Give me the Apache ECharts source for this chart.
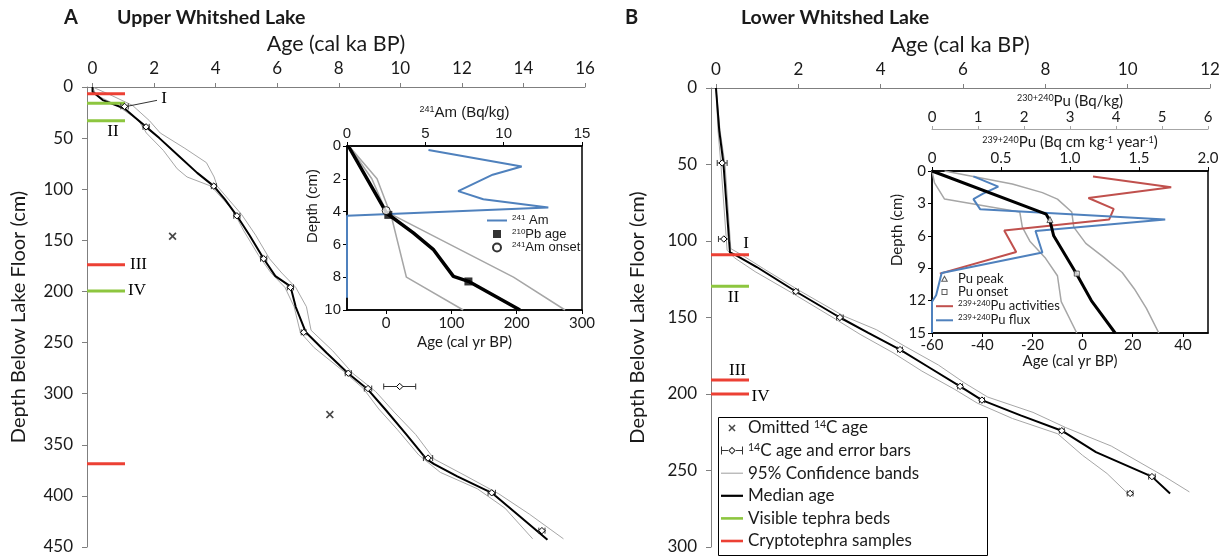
<!DOCTYPE html>
<html>
<head>
<meta charset="utf-8">
<script src="https://cdn.jsdelivr.net/npm/echarts@6/dist/echarts.min.js"></script>
<style>
  html, body { margin: 0; padding: 0; background: #fff; }
  #chart { width: 1224px; height: 556px; }
</style>
</head>
<body>
<div id="chart"></div>
<script>
// ---------- tick labels ----------
const ageTicksA = [0, 2, 4, 6, 8, 10, 12, 14, 16];
const depthTicksA = [0, 50, 100, 150, 200, 250, 300, 350, 400, 450];
const ageTicksB = [0, 2, 4, 6, 8, 10, 12];
const depthTicksB = [0, 50, 100, 150, 200, 250, 300];
const insetAgeTicksA = [0, 100, 200, 300];
const insetAgeTicksB = [-60, -40, -20, 0, 20, 40];

// ---------- A: Upper Whitshed Lake (age ka, depth cm) ----------
const medianAgeA = [0, 0.0, 0.33, 1.04, 1.39, 1.74, 2.17, 2.82, 3.4, 3.94, 4.3, 4.69, 5.1, 5.56, 5.94, 6.43, 6.6, 6.93, 7.6, 8.3, 8.95, 9.5, 10.2, 10.85, 11.1, 11.85, 12.97, 13.8, 14.78];
const medianDepthA = [0, 4.6, 12.8, 21, 30, 39, 50, 68, 84, 97, 110, 126, 145, 168, 185, 195, 215, 240, 260, 280, 296, 315, 340, 364, 369, 381, 397, 418, 443];
const youngAgeA = [0, 0.12, 0.8, 1.5, 1.75, 2.3, 2.75, 3.07, 3.85, 4.55, 4.9, 5.4, 5.8, 6.25, 6.55, 6.75, 7.2, 8.15, 8.8, 9.3, 9.9, 10.6, 11.3, 12.5, 13.4, 14.3];
const youngDepthA = [0, 8, 18, 33, 45, 62, 80, 88, 97, 120, 140, 165, 182, 196, 215, 240, 255, 278, 295, 315, 335, 360, 377, 393, 412, 442];
const oldAgeA = [0, 0.6, 1.3, 1.85, 2.2, 3.0, 3.7, 3.95, 4.05, 4.85, 5.3, 5.75, 6.15, 6.6, 6.95, 7.1, 7.8, 8.45, 9.2, 9.8, 10.5, 11.1, 12.1, 13.2, 14.2, 15.3];
const oldDepthA = [0, 8, 18, 33, 45, 60, 74, 88, 97, 125, 145, 168, 182, 196, 215, 238, 258, 280, 298, 318, 340, 364, 380, 398, 418, 442];
const c14AgeA = [1.04, 1.74, 3.94, 4.69, 5.56, 6.43, 6.86, 8.31, 8.95, 9.98, 10.9, 12.97, 14.6];
const c14DepthA = [19, 39, 97, 126, 168, 196, 240, 280, 295, 293, 363, 397, 434];
const c14ErrA = [0.12, 0.1, 0.08, 0.1, 0.1, 0.1, 0.08, 0.1, 0.12, 0.52, 0.15, 0.12, 0.1];
const omitAgeA = [2.6, 7.71];
const omitDepthA = [146, 320.5];
const tephraDepthA = [6.5, 16, 33, 174, 199.5, 368.5];
const tephraKindA = ['crypto', 'visible', 'visible', 'crypto', 'visible', 'crypto'];
const tephraLabelA = ['', 'I', 'II', 'III', 'IV', ''];

// A inset (age yr BP / 241Am Bq/kg, depth cm)
const amConc = [5.2, 11.15, 9.3, 7.1, 8.7, 12.85, 0, 0];
const amDepth = [0.25, 1.25, 1.75, 2.75, 3.25, 3.75, 4.25, 9.25];
const insetMedAgeA = [-58, 0.8, 41.6, 72, 103, 126, 205];
const insetMedDepthA = [0, 4.1, 5.3, 6.3, 7.95, 8.25, 10];
const insetYoungAgeA = [-57, -14, 8, 31, 118];
const insetYoungDepthA = [0, 2, 4.3, 8.0, 10];
const insetOldAgeA = [-57, -22, 0, 195, 274];
const insetOldDepthA = [0, 2, 4.0, 8.0, 10];
const pbAge = [3.3, 126];
const pbDepth = [4.2, 8.26];
const amOnsetAge = [0];
const amOnsetDepth = [3.94];

// ---------- B: Lower Whitshed Lake ----------
const medianAgeB = [0, 0.08, 0.18, 0.34, 0.5, 0.99, 1.94, 3.01, 3.7, 4.47, 5.2, 5.93, 6.46, 7.4, 8.4, 9.23, 10.59, 11.03];
const medianDepthB = [0, 28, 49, 107.5, 109.6, 117, 133, 150, 160, 171, 183, 195, 204, 214, 224, 238, 254, 265];
const youngAgeB = [0, 0.05, 0.12, 0.27, 0.45, 0.95, 1.85, 2.9, 3.5, 4.3, 5.0, 5.8, 6.35, 7.2, 8.3, 8.9, 9.5, 10.0];
const youngDepthB = [0, 28, 50, 106, 111, 120, 134, 151, 161, 173, 185, 197, 206, 216, 226, 240, 252, 265];
const oldAgeB = [0, 0.1, 0.22, 0.36, 0.62, 1.15, 2.0, 3.1, 3.9, 4.6, 5.4, 6.05, 6.6, 7.7, 8.5, 9.6, 10.9, 11.5];
const oldDepthB = [0, 28, 50, 105, 109, 118, 132, 149, 158, 169, 181, 193, 202, 212, 222, 234, 254, 264];
const c14AgeB = [0.15, 0.19, 1.94, 3.01, 4.47, 5.93, 6.46, 8.4, 10.59, 10.06];
const c14DepthB = [49, 98.7, 133, 150, 171, 195, 204, 224, 254, 265];
const c14ErrB = [0.12, 0.13, 0.06, 0.08, 0.06, 0.06, 0.06, 0.06, 0.08, 0.07];
const tephraDepthB = [109, 129.6, 190.9, 200];
const tephraKindB = ['crypto', 'visible', 'crypto', 'crypto'];
const tephraLabelB = ['I', 'II', 'III', 'IV'];

// B inset (age yr BP / Pu, depth cm)
const puFlux = [0.3, 0.48, 0.37, 0.3, 0.35, 1.69, 0.75, 0.8, 0.07, 0.03, 0, 0];
const puFluxDepth = [0.5, 1.45, 2.1, 2.6, 3.55, 4.5, 5.55, 7.55, 9.45, 11.5, 12.1, 15];
const puAct = [3.5, 5.2, 3.4, 3.95, 3.85, 1.57, 1.83, 0.17];
const puActDepth = [0.5, 1.5, 2.5, 3.5, 4.5, 5.5, 7.5, 9.5];
const insetMedAgeB = [-60, -14.5, -13, -11.5, -2.5, 3.5, 13];
const insetMedDepthB = [0, 4.0, 4.6, 6.0, 9.5, 12, 15];
const insetYoungAgeB = [-60, -59, -55, -25, -24, -21, -15, -10, -8.5, -2.3];
const insetYoungDepthB = [0, 1.1, 2.6, 3.8, 5.2, 6.5, 8.0, 9.7, 12.1, 15];
const insetOldAgeB = [-55, -28, -16, -10, -4.3, -3.5, 1.3, 8.5, 15.8, 20.6, 25.4, 30.4];
const insetOldDepthB = [0, 1.2, 2.0, 2.6, 3.8, 5.2, 6.7, 8.0, 9.4, 10.9, 12.7, 15];
const puPeakAge = [-13];
const puPeakDepth = [4.5];
const puOnsetAge = [-2.3];
const puOnsetDepth = [9.5];

// ---------- styles ----------
const FONT = 'Lato';
const ARIAL = 'Liberation Sans';
const AXIS_GREY = '#7f7f7f';
const BAND = '#a6a6a6';
const GREEN = '#8dc63f';
const RED = '#ec4034';
const BLUE = '#4f81bd';
const PU_RED = '#c0504d';
const TEPHRA_LEN = 38;

const zip = (xs, ys) => xs.map((x, i) => [x, ys[i]]);

// label placement relative to the right end of each tephra line
const tephraLabelPosA = { I: [39, -4.5, true], II: [-12, 11], III: [13.5, 0], IV: [12, 0] };
const tephraLabelPosB = { I: [-3, -11.5], II: [-15.5, 11], III: [-11.5, -9.5], IV: [11.5, 2.5] };

function tephraSeries(name, color, kind, depths, kinds, labels, pos, xi, yi) {
  const idx = depths.map((d, i) => i).filter(i => kinds[i] === kind);
  const labs = idx.map(i => labels[i]);
  return {
    type: 'custom', name, xAxisIndex: xi, yAxisIndex: yi, z: 4,
    itemStyle: { color },
    encode: { y: 0 },
    data: idx.map(i => [depths[i]]),
    renderItem(params, api) {
      const y = api.coord([0, api.value(0)])[1];
      const x0 = params.coordSys.x;
      const x1 = x0 + TEPHRA_LEN;
      const children = [{ type: 'line', shape: { x1: x0, y1: y, x2: x1, y2: y }, style: { stroke: color, lineWidth: 3 } }];
      const lab = labs[params.dataIndex];
      if (lab) {
        const p = pos[lab];
        children.push({ type: 'text', x: x1 + p[0], y: y + p[1],
          style: { text: lab, fill: '#000', font: '17px "Liberation Serif"', align: 'center', verticalAlign: 'middle' } });
        if (p[2]) {
          children.push({ type: 'line', shape: { x1: x1 + p[0] - 7, y1: y + p[1] + 1.5, x2: x1 + 2, y2: y + 3 },
            style: { stroke: '#000', lineWidth: 0.8 } });
        }
      }
      return { type: 'group', children };
    }
  };
}

function renderAge(params, api) {
  const p = api.coord([api.value(0), api.value(1)]);
  const lo = api.coord([api.value(0) - api.value(2), api.value(1)]);
  const hi = api.coord([api.value(0) + api.value(2), api.value(1)]);
  const d = 3.2, c = 3;
  const s = { stroke: '#333', lineWidth: 1 };
  return { type: 'group', children: [
    { type: 'line', shape: { x1: lo[0], y1: p[1], x2: hi[0], y2: p[1] }, style: s },
    { type: 'line', shape: { x1: lo[0], y1: p[1] - c, x2: lo[0], y2: p[1] + c }, style: s },
    { type: 'line', shape: { x1: hi[0], y1: p[1] - c, x2: hi[0], y2: p[1] + c }, style: s },
    { type: 'polygon', shape: { points: [[p[0], p[1] - d], [p[0] + d, p[1]], [p[0], p[1] + d], [p[0] - d, p[1]]] },
      style: { fill: '#fff', stroke: '#000', lineWidth: 1 } }
  ] };
}

function mainX(gridIndex, min, max, ticks) {
  return {
    gridIndex, type: 'value', position: 'top', min, max,
    splitLine: { show: false },
    axisLine: { show: true, onZero: false, lineStyle: { color: AXIS_GREY } },
    axisTick: { show: true, customValues: ticks, length: 4, lineStyle: { color: AXIS_GREY } },
    axisLabel: { customValues: ticks, margin: 10, fontFamily: FONT, fontSize: 17, color: '#1a1a1a' },
    name: 'Age (cal ka BP)', nameLocation: 'middle', nameGap: 32,
    nameTextStyle: { fontFamily: FONT, fontSize: 21.5, color: '#1a1a1a' }
  };
}
function mainY(gridIndex, max, ticks, gap) {
  return {
    gridIndex, type: 'value', inverse: true, min: 0, max,
    splitLine: { show: false },
    axisLine: { show: true, onZero: false, lineStyle: { color: AXIS_GREY } },
    axisTick: { show: true, customValues: ticks, length: 5, lineStyle: { color: AXIS_GREY } },
    axisLabel: { customValues: ticks, margin: 14, fontFamily: FONT, fontSize: 17, color: '#1a1a1a' },
    name: 'Depth Below Lake Floor (cm)', nameLocation: 'middle', nameGap: gap, nameRotate: 90,
    nameTextStyle: { fontFamily: FONT, fontSize: 20, color: '#1a1a1a' }
  };
}
const supRich = (size) => ({
  t: { fontSize: size, fontFamily: FONT, color: '#1a1a1a' },
  a: { fontSize: size, fontFamily: ARIAL, color: '#1a1a1a' },
  s: { fontSize: Math.round(size * 0.62), fontFamily: FONT, color: '#1a1a1a', verticalAlign: 'top' },
  sa: { fontSize: Math.round(size * 0.62), fontFamily: ARIAL, color: '#1a1a1a', verticalAlign: 'top' }
});
function insetX(gridIndex, opt) {
  return Object.assign({
    gridIndex, type: 'value', splitLine: { show: false },
    axisLine: { show: true, onZero: false, lineStyle: { color: '#000', width: 1.5 } },
    axisTick: { show: true, length: 4, lineStyle: { color: '#000' } },
    nameLocation: 'middle'
  }, opt);
}

const legendNames = {
  'Omitted 14C age': '{t|Omitted }{s|14}{t|C age}',
  '14C age and error bars': '{s|14}{t|C age and error bars}',
  '241Am': '{sa|241}{a| Am}',
  '210Pb age': '{sa|210}{a|Pb age}',
  '241Am onset': '{sa|241}{a|Am onset}',
  '239+240Pu activities': '{s|239+240}{t|Pu activities}',
  '239+240Pu flux': '{s|239+240}{t|Pu flux}'
};
const legendFmt = (name) => legendNames[name] || '{t|' + name + '}';

const X_PATH = 'path://M0,1.5L1.5,0L5,3.5L8.5,0L10,1.5L6.5,5L10,8.5L8.5,10L5,6.5L1.5,10L0,8.5L3.5,5Z';
const X_ICON = X_PATH + 'M-2,-2h0.01v0.01zM12,12h0.01v0.01z';
const ERR_ICON = 'path://M0,0H1V3.5H7V4.5H1V8H0Z M22,0V8H21V4.5H15V3.5H21V0Z M11,0.2L14.8,4L11,7.8L7.2,4Z M11,1.6L8.6,4L11,6.4L13.4,4Z';
const BAR_ICON = 'path://M0,0H22V2.6H0Z';
const THIN_ICON = 'path://M0,0H22V1.1H0Z';
const MED_ICON = 'path://M0,0H22V2.2H0Z';
const LINE_ICON = 'path://M0,0H20V2H0Z';
const SQUARE_ICON = 'path://M0,0H10V10H0Z';
const TRI_ICON = 'path://M5,1.8L8.6,8.2H1.4Z M5,3.9L3.1,7.2H6.9Z';
const SQ_ICON = 'path://M2,2H8V8H2Z M3,3V7H7V3Z';
const PAD = 'M0,0h0.01v0.01zM10,10h0.01v0.01z';

const option = {
  animation: false,
  backgroundColor: '#fff',
  title: [
    { text: 'A', left: 64, top: 8, padding: 0, textStyle: { fontFamily: FONT, fontWeight: 'bold', fontSize: 20, color: '#1a1a1a' } },
    { text: 'Upper Whitshed Lake', left: 117, top: 8, padding: 0, textStyle: { fontFamily: FONT, fontWeight: 'bold', fontSize: 19.5, color: '#1a1a1a' } },
    { text: 'B', left: 625, top: 8, padding: 0, textStyle: { fontFamily: FONT, fontWeight: 'bold', fontSize: 20, color: '#1a1a1a' } },
    { text: 'Lower Whitshed Lake', left: 741, top: 8, padding: 0, textStyle: { fontFamily: FONT, fontWeight: 'bold', fontSize: 19.5, color: '#1a1a1a' } }
  ],
  grid: [
    { left: 87, top: 87, width: 498, height: 460 },
    { left: 347, top: 146, width: 235, height: 164, show: true, borderColor: '#000', borderWidth: 1.5, backgroundColor: '#fff' },
    { left: 711, top: 88, width: 499, height: 459 },
    { left: 932, top: 171, width: 276, height: 162, show: true, borderColor: '#000', borderWidth: 1.5, backgroundColor: '#fff' }
  ],
  xAxis: [
    mainX(0, -0.18, 16, ageTicksA),
    insetX(1, { position: 'top', min: 0, max: 15, interval: 5,
      axisLabel: { margin: 5, fontFamily: ARIAL, fontSize: 15, color: '#1a1a1a' },
      name: '{sa|241}{a|Am (Bq/kg)}', nameGap: 26, nameTextStyle: { rich: supRich(15) } }),
    insetX(1, { position: 'bottom', min: -60, max: 300,
      axisTick: { show: true, customValues: insetAgeTicksA, length: 4, lineStyle: { color: '#000' } },
      axisLabel: { customValues: insetAgeTicksA, margin: 6, fontFamily: FONT, fontSize: 15, color: '#1a1a1a' },
      name: 'Age (cal yr BP)', nameGap: 25, nameTextStyle: { fontFamily: FONT, fontSize: 15, color: '#1a1a1a' } }),
    mainX(2, -0.121, 12, ageTicksB),
    insetX(3, { position: 'top', min: 0, max: 2, interval: 0.5,
      axisLabel: { margin: 5, fontFamily: FONT, fontSize: 15, color: '#1a1a1a', formatter: v => v === 0 ? '0' : v.toFixed(1) },
      name: '{s|239+240}{t|Pu (Bq cm kg}{s|-1}{t| year}{s|-1}{t|)}', nameGap: 20, nameTextStyle: { rich: supRich(15) } }),
    insetX(3, { position: 'top', offset: 42, min: 0, max: 6, interval: 1,
      axisLine: { show: true, onZero: false, lineStyle: { color: BAND, width: 1 } },
      axisTick: { show: true, length: 3, lineStyle: { color: BAND } },
      axisLabel: { margin: 4, fontFamily: FONT, fontSize: 15, color: '#1a1a1a' },
      name: '{s|230+240}{t|Pu (Bq/kg)}', nameGap: 20, nameTextStyle: { rich: supRich(15) } }),
    insetX(3, { position: 'bottom', min: -60, max: 50,
      axisTick: { show: true, customValues: insetAgeTicksB, length: 4, lineStyle: { color: '#000' } },
      axisLabel: { customValues: insetAgeTicksB, margin: 5, fontFamily: FONT, fontSize: 15, color: '#1a1a1a' },
      name: 'Age (cal yr BP)', nameGap: 21, nameTextStyle: { fontFamily: FONT, fontSize: 15, color: '#1a1a1a' } })
  ],
  yAxis: [
    mainY(0, 450, depthTicksA, 58),
    { gridIndex: 1, type: 'value', inverse: true, min: 0, max: 10, interval: 2, splitLine: { show: false },
      axisLine: { show: true, onZero: false, lineStyle: { color: '#000', width: 1.5 } },
      axisTick: { show: true, length: 4, lineStyle: { color: '#000' } },
      axisLabel: { margin: 6, fontFamily: ARIAL, fontSize: 15, color: '#1a1a1a' },
      name: 'Depth (cm)', nameLocation: 'middle', nameGap: 24, nameRotate: 90,
      nameTextStyle: { fontFamily: ARIAL, fontSize: 15, color: '#1a1a1a', padding: [0, 0, 0, 44] } },
    mainY(2, 300, depthTicksB, 63),
    { gridIndex: 3, type: 'value', inverse: true, min: 0, max: 15, interval: 3, splitLine: { show: false },
      axisLine: { show: true, onZero: false, lineStyle: { color: '#000', width: 1.5 } },
      axisTick: { show: true, length: 4, lineStyle: { color: '#000' } },
      axisLabel: { margin: 6, fontFamily: FONT, fontSize: 15, color: '#1a1a1a' },
      name: 'Depth (cm)', nameLocation: 'middle', nameGap: 22, nameRotate: 90,
      nameTextStyle: { fontFamily: FONT, fontSize: 15, color: '#1a1a1a', padding: [0, 0, 0, 44] } }
  ],
  legend: [
    { left: 721, top: 419.5, padding: 0, orient: 'vertical', itemWidth: 22, itemHeight: 10, itemGap: 5.6, selectedMode: false,
      formatter: legendFmt,
      textStyle: { fontFamily: FONT, fontSize: 17, color: '#1a1a1a', rich: {
        t: { fontFamily: FONT, fontSize: 17, color: '#1a1a1a' },
        s: { fontFamily: FONT, fontSize: 10.5, color: '#1a1a1a', verticalAlign: 'top' } } },
      data: [
        { name: 'Omitted 14C age', icon: X_ICON },
        { name: '14C age and error bars', icon: ERR_ICON, itemStyle: { color: '#333', borderWidth: 0 } },
        { name: '95% Confidence bands', icon: THIN_ICON, itemStyle: { color: BAND, borderWidth: 0 } },
        { name: 'Median age', icon: MED_ICON, itemStyle: { color: '#000', borderWidth: 0 } },
        { name: 'Visible tephra beds', icon: BAR_ICON },
        { name: 'Cryptotephra samples', icon: BAR_ICON }
      ] },
    { left: 487, top: 214, padding: 0, orient: 'vertical', itemWidth: 20, itemHeight: 8, itemGap: 0.5, selectedMode: false,
      formatter: legendFmt,
      textStyle: { rich: {
        a: { fontFamily: ARIAL, fontSize: 13, lineHeight: 15, color: '#1a1a1a' },
        sa: { fontFamily: ARIAL, fontSize: 8, color: '#1a1a1a', verticalAlign: 'top', padding: [1, 0, 0, 0] } } },
      data: [
        { name: '241Am', icon: LINE_ICON, itemStyle: { color: BLUE, borderWidth: 0 } },
        { name: '210Pb age', icon: SQUARE_ICON, itemStyle: { color: '#000', borderWidth: 0 } },
        '241Am onset'
      ] },
    { left: 936, top: 272, padding: 0, orient: 'vertical', itemWidth: 17, itemHeight: 10, itemGap: 0.6, selectedMode: false,
      formatter: legendFmt,
      textStyle: { rich: {
        t: { fontFamily: FONT, fontSize: 13, lineHeight: 14, color: '#1a1a1a' },
        s: { fontFamily: FONT, fontSize: 8, color: '#1a1a1a', verticalAlign: 'top' } } },
      data: [
        { name: 'Pu peak', icon: TRI_ICON + PAD, itemStyle: { color: '#333', borderWidth: 0 } },
        { name: 'Pu onset', icon: SQ_ICON + PAD, itemStyle: { color: '#333', borderWidth: 0 } },
        { name: '239+240Pu activities', icon: 'path://M0,0H17V2H0Z', itemStyle: { color: PU_RED, borderWidth: 0 } },
        { name: '239+240Pu flux', icon: 'path://M0,0H17V2H0Z', itemStyle: { color: BLUE, borderWidth: 0 } }
      ] }
  ],
  graphic: [
    { type: 'rect', left: 716, top: 415, z: 0, shape: { width: 269, height: 138 }, style: { fill: 'none', stroke: '#000', lineWidth: 1 } }
  ],
  series: [
    // ----- A main -----
    { type: 'line', name: '95% Confidence bands', xAxisIndex: 0, yAxisIndex: 0, data: zip(youngAgeA, youngDepthA),
      symbol: 'none', lineStyle: { color: BAND, width: 1 }, itemStyle: { color: BAND }, z: 2 },
    { type: 'line', name: '95% Confidence bands', xAxisIndex: 0, yAxisIndex: 0, data: zip(oldAgeA, oldDepthA),
      symbol: 'none', lineStyle: { color: BAND, width: 1 }, itemStyle: { color: BAND }, z: 2 },
    { type: 'line', name: 'Median age', xAxisIndex: 0, yAxisIndex: 0, data: zip(medianAgeA, medianDepthA),
      symbol: 'none', lineStyle: { color: '#000', width: 2 }, itemStyle: { color: '#000' }, z: 3 },
    { type: 'scatter', name: 'Omitted 14C age', xAxisIndex: 0, yAxisIndex: 0, data: zip(omitAgeA, omitDepthA),
      symbol: X_PATH, symbolSize: 8, itemStyle: { color: '#1a1a1a' }, z: 5 },
    { type: 'custom', name: '14C age and error bars', xAxisIndex: 0, yAxisIndex: 0,
      data: c14AgeA.map((a, i) => [a, c14DepthA[i], c14ErrA[i]]), encode: { x: 0, y: 1 },
      renderItem: renderAge, itemStyle: { color: '#333' }, z: 5 },
    tephraSeries('Visible tephra beds', GREEN, 'visible', tephraDepthA, tephraKindA, tephraLabelA, tephraLabelPosA, 0, 0),
    tephraSeries('Cryptotephra samples', RED, 'crypto', tephraDepthA, tephraKindA, tephraLabelA, tephraLabelPosA, 0, 0),

    // ----- A inset -----
    { type: 'line', name: '95% Confidence bands', xAxisIndex: 2, yAxisIndex: 1, data: zip(insetYoungAgeA, insetYoungDepthA),
      symbol: 'none', lineStyle: { color: BAND, width: 1.5 }, z: 2 },
    { type: 'line', name: '95% Confidence bands', xAxisIndex: 2, yAxisIndex: 1, data: zip(insetOldAgeA, insetOldDepthA),
      symbol: 'none', lineStyle: { color: BAND, width: 1.5 }, z: 2 },
    { type: 'line', name: '241Am', xAxisIndex: 1, yAxisIndex: 1, data: zip(amConc, amDepth),
      symbol: 'none', lineStyle: { color: BLUE, width: 2 }, itemStyle: { color: BLUE }, z: 3 },
    { type: 'line', name: 'Median age', xAxisIndex: 2, yAxisIndex: 1, data: zip(insetMedAgeA, insetMedDepthA),
      symbol: 'none', lineStyle: { color: '#000', width: 3.5 }, z: 4 },
    { type: 'scatter', name: '210Pb age', xAxisIndex: 2, yAxisIndex: 1, data: zip(pbAge, pbDepth),
      symbol: 'rect', symbolSize: 8, itemStyle: { color: '#000' }, z: 5 },
    { type: 'scatter', name: '241Am onset', xAxisIndex: 2, yAxisIndex: 1, data: zip(amOnsetAge, amOnsetDepth),
      symbol: 'circle', symbolSize: 8, itemStyle: { color: '#fff', borderColor: '#000', borderWidth: 1 }, z: 6 },

    // ----- B main -----
    { type: 'line', name: '95% Confidence bands', xAxisIndex: 3, yAxisIndex: 2, data: zip(youngAgeB, youngDepthB),
      symbol: 'none', lineStyle: { color: BAND, width: 1 }, z: 2 },
    { type: 'line', name: '95% Confidence bands', xAxisIndex: 3, yAxisIndex: 2, data: zip(oldAgeB, oldDepthB),
      symbol: 'none', lineStyle: { color: BAND, width: 1 }, z: 2 },
    { type: 'line', name: 'Median age', xAxisIndex: 3, yAxisIndex: 2, data: zip(medianAgeB, medianDepthB),
      symbol: 'none', lineStyle: { color: '#000', width: 2 }, z: 3 },
    { type: 'custom', name: '14C age and error bars', xAxisIndex: 3, yAxisIndex: 2,
      data: c14AgeB.map((a, i) => [a, c14DepthB[i], c14ErrB[i]]), encode: { x: 0, y: 1 },
      renderItem: renderAge, itemStyle: { color: '#333' }, z: 5 },
    tephraSeries('Visible tephra beds', GREEN, 'visible', tephraDepthB, tephraKindB, tephraLabelB, tephraLabelPosB, 3, 2),
    tephraSeries('Cryptotephra samples', RED, 'crypto', tephraDepthB, tephraKindB, tephraLabelB, tephraLabelPosB, 3, 2),

    // ----- B inset -----
    { type: 'line', name: '95% Confidence bands', xAxisIndex: 6, yAxisIndex: 3, data: zip(insetYoungAgeB, insetYoungDepthB),
      symbol: 'none', lineStyle: { color: BAND, width: 1.5 }, z: 2 },
    { type: 'line', name: '95% Confidence bands', xAxisIndex: 6, yAxisIndex: 3, data: zip(insetOldAgeB, insetOldDepthB),
      symbol: 'none', lineStyle: { color: BAND, width: 1.5 }, z: 2 },
    { type: 'line', name: '239+240Pu activities', xAxisIndex: 5, yAxisIndex: 3, data: zip(puAct, puActDepth),
      symbol: 'none', lineStyle: { color: PU_RED, width: 2 }, itemStyle: { color: PU_RED }, z: 3 },
    { type: 'line', name: '239+240Pu flux', xAxisIndex: 4, yAxisIndex: 3, data: zip(puFlux, puFluxDepth),
      symbol: 'none', lineStyle: { color: BLUE, width: 2 }, itemStyle: { color: BLUE }, z: 3 },
    { type: 'line', name: 'Median age', xAxisIndex: 6, yAxisIndex: 3, data: zip(insetMedAgeB, insetMedDepthB),
      symbol: 'none', lineStyle: { color: '#000', width: 3 }, z: 4 },
    { type: 'scatter', name: 'Pu peak', xAxisIndex: 6, yAxisIndex: 3, data: zip(puPeakAge, puPeakDepth),
      symbol: 'triangle', symbolSize: 6, itemStyle: { color: '#fff', borderColor: '#333', borderWidth: 1 }, z: 5 },
    { type: 'scatter', name: 'Pu onset', xAxisIndex: 6, yAxisIndex: 3, data: zip(puOnsetAge, puOnsetDepth),
      symbol: 'rect', symbolSize: 5, itemStyle: { color: '#fff', borderColor: '#333', borderWidth: 1 }, z: 5 }
  ]
};

const chart = echarts.init(document.getElementById('chart'));
chart.setOption(option);
window.addEventListener('resize', () => chart.resize());
</script>
</body>
</html>
